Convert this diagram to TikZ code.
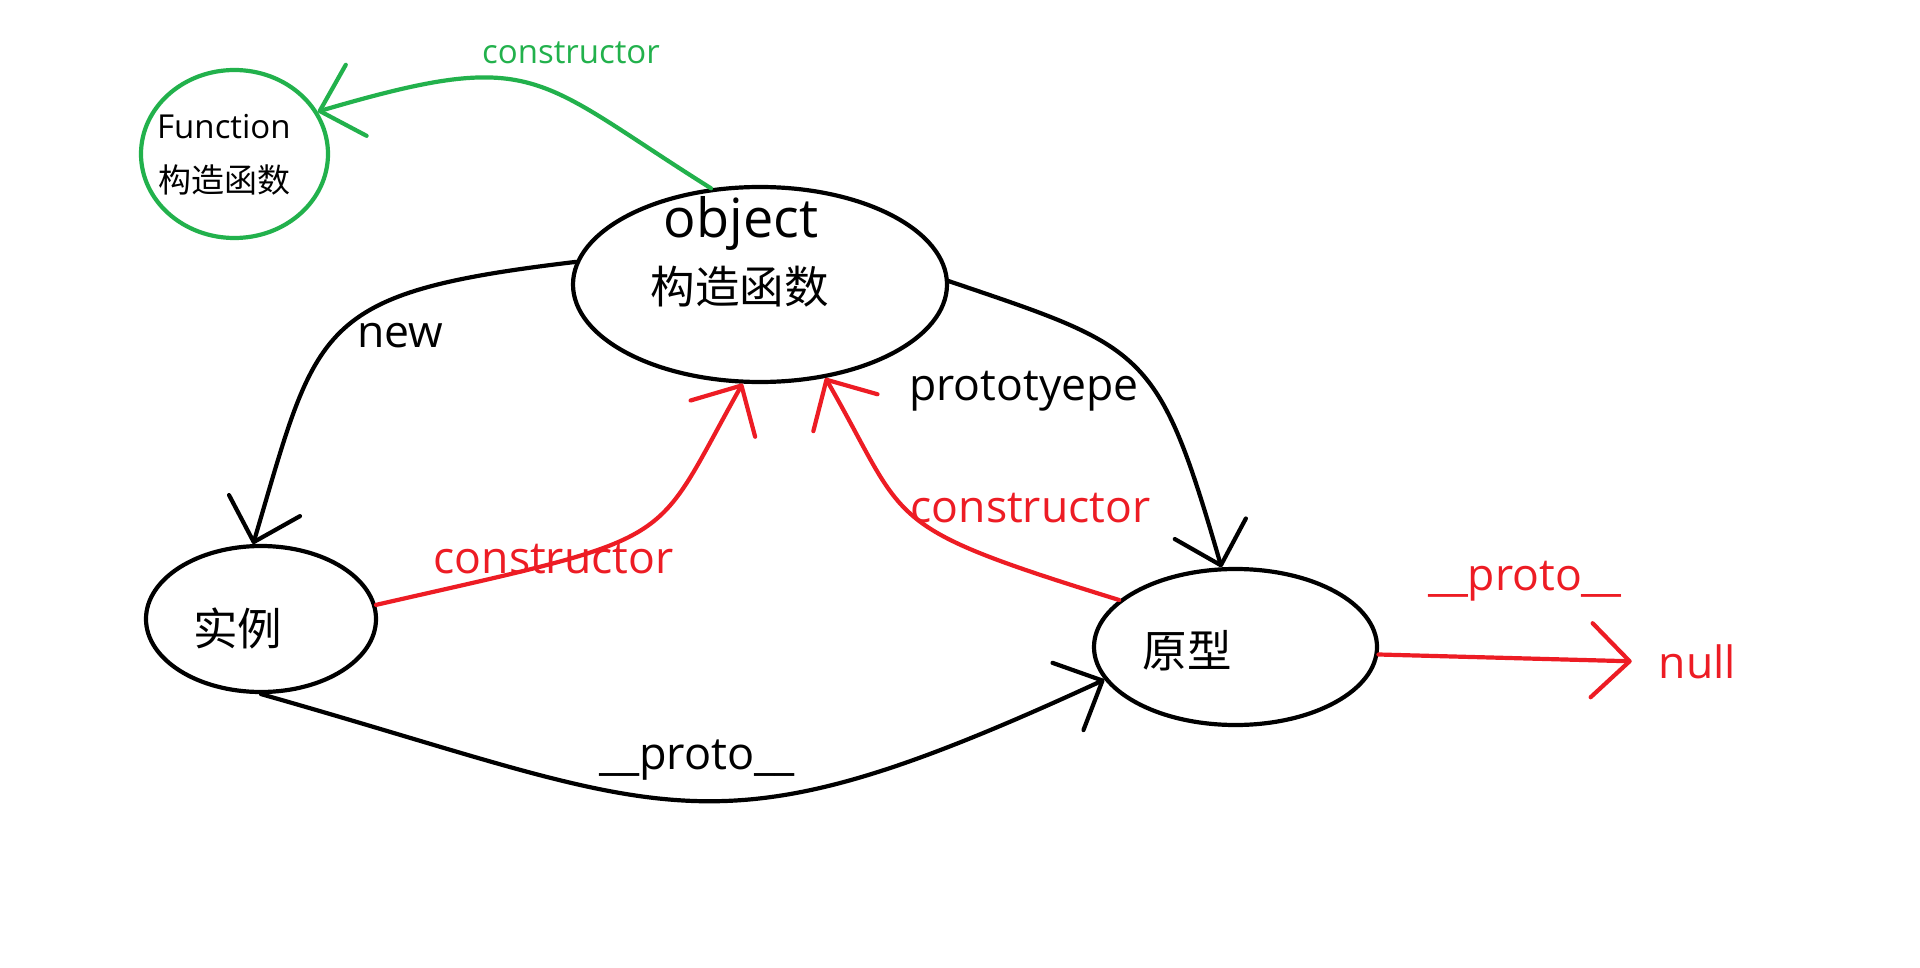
\documentclass[tikz,border=0pt]{standalone}
\usepackage{fontspec}
\setmainfont{Open Sans}
\newfontfamily\cjk{Noto Sans CJK SC}
\usetikzlibrary{shapes.geometric,arrows.meta}
\definecolor{pgreen}{HTML}{22B14C}
\definecolor{pred}{HTML}{ED1C24}
\begin{document}
\begin{tikzpicture}[x=1pt,y=-1pt,
  bub/.style={draw, ellipse, line width=4.2pt, inner sep=0pt},
  conn/.style={line width=4.2pt, line cap=round, -{Straight Barb[length=38pt,width=74pt,round]}},
  big/.style={anchor=base, inner sep=0pt, font=\fontsize{44.5}{50}\selectfont},
  sml/.style={anchor=base west, inner sep=0pt, font=\fontsize{33}{38}\selectfont},
  cjkbig/.style={anchor=base, inner sep=0pt, font=\cjk\fontsize{44.5}{50}\selectfont},
]
\fill[white] (0,0) rectangle (1920,968);
\useasboundingbox (0,0) rectangle (1920,968);

% ellipses
\node[bub, draw=pgreen, minimum width=187pt, minimum height=168pt] (fn) at (234.5,154) {};
\node[bub, minimum width=374pt, minimum height=195pt] (obj) at (760,284.5) {};
\node[bub, minimum width=230pt, minimum height=146pt] (inst) at (261,619) {};
\node[bub, minimum width=283pt, minimum height=156pt] (proto) at (1235.5,647) {};

% texts inside
\node[sml] (fnt1) at (157,139) {Function};
\node[sml, font=\cjk\fontsize{33}{38}\selectfont] (fnt2) at (158,193) {构造函数};
\node[big, font=\fontsize{54}{60}\selectfont] (objt1) at (741,238) {object};
\node[cjkbig] (objt2) at (739.5,304) {构造函数};
\node[cjkbig] (instt) at (237.5,645) {实例};
\node[cjkbig] (protot) at (1187,667) {原型};
\node[big, text=pred, inner xsep=27pt] (null) at (1697.5,678) {null};

% connectors
\draw[conn] (obj.173) .. controls (313,293) and (318,325) .. (inst.96);
\draw[conn] (obj.1) .. controls (1146,348) and (1158,348) .. (proto.100);
\draw[conn] (inst.south) .. controls (680,813) and (704,864) .. (proto.194);
\draw[conn, draw=pred] (inst.7) .. controls (687,534) and (649,550) .. (obj.260);
\draw[conn, draw=pred] (proto.158) .. controls (877,525) and (910,525) .. (obj.305);
\draw[conn, draw=pgreen] (obj.117) .. controls (532,76) and (538,47) .. (fn.27);
\draw[conn, draw=pred] (proto.-3) -- (null.west);

% connector labels
\node[big] (lnew) at (400,348) {new};
\node[big] (lptype) at (1024,400) {prototyepe};
\node[big, text=pred] (lc1) at (553.5,573) {constructor};
\node[big, text=pred] (lc2) at (1030.5,522) {constructor};
\node[big, font=\fontsize{45}{50}\selectfont] (lp1) at (697,769) {\_\_proto\_\_};
\node[big, text=pred] (lp2) at (1525,590) {\_\_proto\_\_};
\node[sml, anchor=base, text=pgreen] (lc3) at (571,64) {constructor};
\end{tikzpicture}
\end{document}
